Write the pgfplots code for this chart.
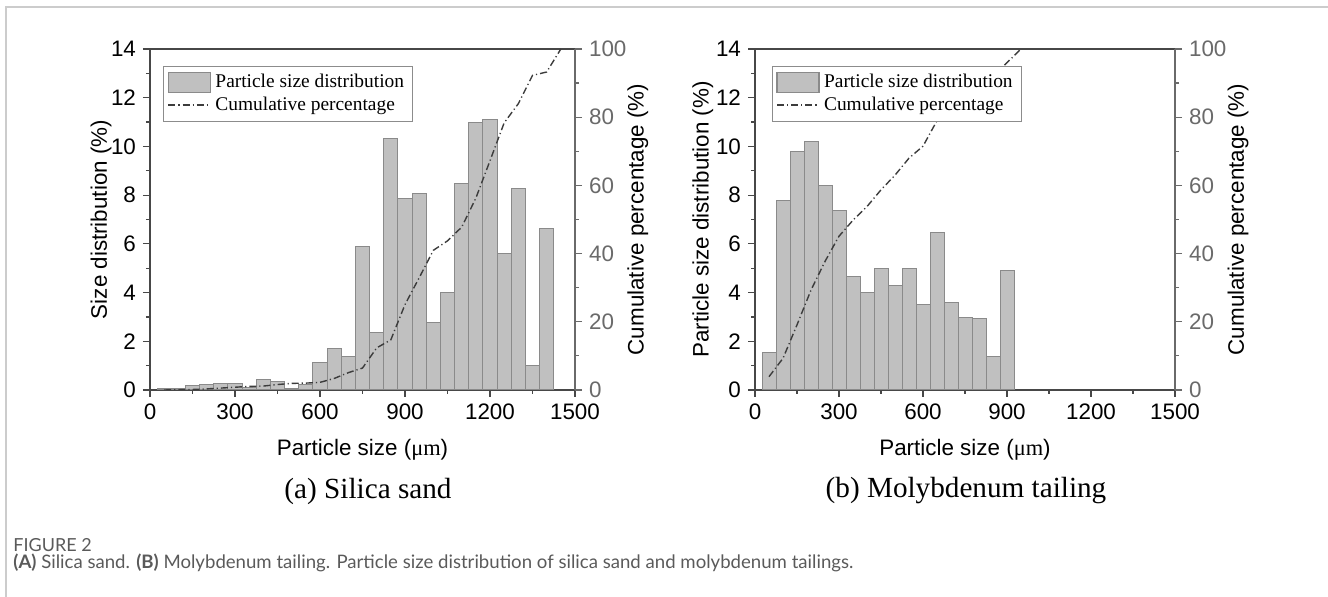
\documentclass[border=0pt]{standalone}
\usepackage{fontspec}
\setmainfont{Liberation Serif}
\setsansfont{Liberation Sans}
\newfontfamily\capfont{Lato}
\usepackage{pgfplots}
\pgfplotsset{compat=1.18}

\definecolor{barfill}{HTML}{C0C0C0}
\definecolor{baredge}{HTML}{8A8A8A}
\definecolor{linecol}{HTML}{3C3C3C}
\definecolor{rightax}{HTML}{6A6A6A}
\definecolor{framecol}{HTML}{CCCCCC}
\definecolor{captext}{HTML}{5A5A5A}

\tikzset{
  cumline/.style={linecol, line width=0.7pt, dash pattern=on 3.5pt off 1.5pt on 0.6pt off 1.5pt},
  histbox/.style={fill=barfill, draw=baredge, line width=0.6pt},
}

% shared look of both panels
\pgfplotsset{
  panel/.style={
    scale only axis, height=170.5pt, xmin=0, xmax=1500,
    tick align=outside, major tick length=3.5pt, minor tick length=2pt,
    tick label style={font=\sffamily\fontsize{11.2}{11}\selectfont},
    label style={font=\sffamily\fontsize{11.2}{13}\selectfont},
    /pgf/number format/assume math mode=true,
    /pgf/number format/set thousands separator={},
    axis line style={line width=0.7pt, black!72},
    every tick/.style={line width=0.6pt, black!72},
  },
  hist/.style={ybar, bar width=50, fill=barfill, draw=baredge, line width=0.5pt},
  leg/.style={legend style={at={(#1,0.951)}, anchor=north west, draw=black!45,
    line width=0.5pt, fill=white, inner xsep=2pt, inner ysep=2.6pt,
    nodes={inner xsep=2.2pt, inner ysep=1.5pt},
    font=\rmfamily\fontsize{9.7}{10.5}\selectfont, cells={anchor=west}},
    legend cell align=left},
  cumaxis/.style={axis y line*=right, axis x line=none, ymin=0, ymax=100,
    ytick={0,20,...,100}, minor y tick num=1,
    y axis line style={rightax}, ytick style={rightax}, yticklabel style={rightax},
    ylabel={Cumulative percentage (\%)}},
}

% (a) silica sand
\pgfplotstableread{
x y
50 0.08
100 0.07
150 0.17
200 0.24
250 0.25
300 0.25
350 0.09
400 0.45
450 0.34
500 0.08
550 0.22
600 1.14
650 1.70
700 1.36
750 5.90
800 2.37
850 10.34
900 7.85
950 8.05
1000 2.79
1050 4.01
1100 8.49
1150 11.00
1200 11.11
1250 5.62
1300 8.29
1350 0.99
1400 6.64
}\sandbars
\pgfplotstableread{
x y
50 0
100 0.08
150 0.15
200 0.32
250 0.56
300 0.81
350 1.06
400 1.15
450 1.60
500 1.94
550 2.02
600 2.24
650 3.38
700 5.08
750 6.44
800 12.34
850 14.71
900 25.05
950 32.90
1000 40.95
1050 43.74
1100 47.75
1150 56.24
1200 67.24
1250 78.35
1300 83.97
1350 92.26
1400 93.25
1450 100
}\sandcum

% (b) molybdenum tailing
\pgfplotstableread{
x y
50 1.55
100 7.77
150 9.81
200 10.21
250 8.38
300 7.38
350 4.66
400 3.99
450 4.99
500 4.27
550 5.00
600 3.49
650 6.48
700 3.58
750 2.99
800 2.92
850 1.37
900 4.90
}\molybars
\pgfplotstableread{
x y
50 3.9
100 9.3
150 19.1
200 29.3
250 37.7
300 45.1
350 49.8
400 53.8
450 58.7
500 63.0
550 68.0
600 71.5
650 79.0
700 82.5
750 86.0
800 89.0
850 92.0
900 96.0
950 100
}\molycum

\begin{document}
\begin{tikzpicture}
\useasboundingbox (0,0) rectangle (664pt,-298.5pt);
\draw[framecol, line width=0.75pt] (3pt,-300pt) -- (3pt,-3.5pt) -- (670pt,-3.5pt);

% ---- left panel ----
\begin{axis}[panel, at={(75pt,-195pt)}, anchor=south west, width=212.5pt,
  ymin=0, ymax=14, xtick={0,300,...,1500}, minor x tick num=1,
  ytick={0,2,...,14}, minor y tick num=1, xtick pos=left, ytick pos=left,
  xlabel={Particle size ({\rmfamily μm})}, ylabel={Size distribution (\%)},
  xlabel style={at={(axis description cs:0.5,-0.176)}, anchor=center},
  ylabel style={at={(axis description cs:-0.115,0.5)}, anchor=center}]
\addplot[hist] table {\sandbars};
\end{axis}
\begin{axis}[panel, cumaxis, leg=0.031, at={(75pt,-195pt)}, anchor=south west, width=212.5pt,
  ylabel style={at={(axis description cs:1.148,0.5)}, anchor=center}]
\addlegendimage{legend image code/.code={\draw[histbox] (0pt,-5pt) rectangle (21pt,5pt);}}
\addlegendentry{Particle size distribution}
\addplot[cumline, legend image code/.code={\draw[cumline] (0pt,0pt) -- (21pt,0pt);}] table {\sandcum};
\addlegendentry{Cumulative percentage}
\end{axis}

% ---- right panel ----
\begin{axis}[panel, at={(377.5pt,-195pt)}, anchor=south west, width=210pt,
  ymin=0, ymax=14, xtick={0,300,...,1500}, minor x tick num=1,
  ytick={0,2,...,14}, minor y tick num=1, xtick pos=left, ytick pos=left,
  xlabel={Particle size ({\rmfamily μm})}, ylabel={Particle size distribution (\%)},
  xlabel style={at={(axis description cs:0.5,-0.176)}, anchor=center},
  ylabel style={at={(axis description cs:-0.124,0.5)}, anchor=center}]
\addplot[hist] table {\molybars};
\end{axis}
\begin{axis}[panel, cumaxis, leg=0.040, at={(377.5pt,-195pt)}, anchor=south west, width=210pt,
  ylabel style={at={(axis description cs:1.15,0.5)}, anchor=center}]
\addlegendimage{legend image code/.code={\draw[histbox] (0pt,-5pt) rectangle (21pt,5pt);}}
\addlegendentry{Particle size distribution}
\addplot[cumline, legend image code/.code={\draw[cumline] (0pt,0pt) -- (21pt,0pt);}] table {\molycum};
\addlegendentry{Cumulative percentage}
\end{axis}

% sub-captions and figure caption
\node[font=\rmfamily\fontsize{14.6}{17}\selectfont] at (184pt,-245.5pt) {(a) Silica sand};
\node[font=\rmfamily\fontsize{14.6}{17}\selectfont] at (483pt,-245.5pt) {(b) Molybdenum tailing};
\node[anchor=west, inner sep=0pt, font=\capfont\fontsize{9}{10}\selectfont, text=captext] at (6.5pt,-272.5pt) {FIGURE 2};
\node[anchor=west, inner sep=0pt, font=\capfont\fontsize{9.3}{10}\selectfont, text=captext] at (6.5pt,-281.5pt)
  {{\bfseries (A)} Silica sand. {\bfseries (B)} Molybdenum tailing. Particle size distribution of silica sand and molybdenum tailings.};
\end{tikzpicture}
\end{document}
